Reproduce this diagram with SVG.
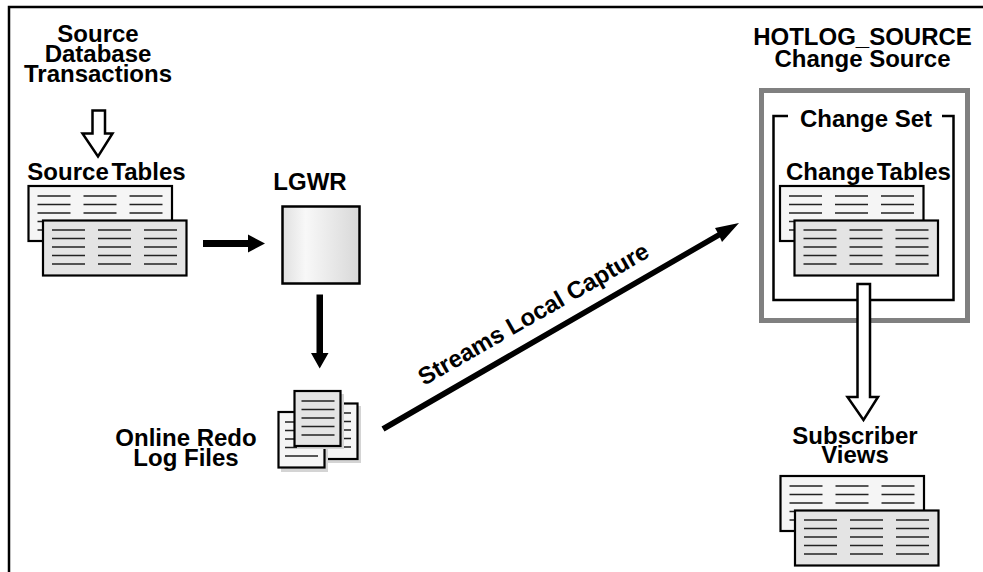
<svg xmlns="http://www.w3.org/2000/svg" width="983" height="572" viewBox="0 0 983 572">
<style>
text{font-family:"Liberation Sans",Arial,sans-serif;font-weight:700;font-size:24px;fill:#000;text-anchor:middle}
.tb{stroke:#000;stroke-width:2.2}
.back{fill:#f5f5f5}
.front{fill:#e4e4e4}
.ln{stroke:#222;stroke-width:1.6;fill:none}
.solid{fill:#000;stroke:none}
.hollow{fill:#fff;stroke:#000;stroke-width:2.5}
.sh{fill:#d4d4d4}
</style>
<defs>
<linearGradient id="lg" x1="0" x2="1" y1="0" y2="0">
<stop offset="0" stop-color="#e0e0e0"/><stop offset="0.3" stop-color="#f8f8f8"/><stop offset="1" stop-color="#d8d8d8"/>
</linearGradient>
<path id="rows" d="M0 0h33M46 0h33M92 0h33M0 8.500h33M46 8.500h33M92 8.500h33M0 17h33M46 17h33M92 17h33M0 25.500h33M46 25.500h33M92 25.500h33M0 34h33M46 34h33M92 34h33"/>
<g id="tables">
<rect class="tb back" x="0" y="0" width="143.500" height="55"/>
<use href="#rows" class="ln" x="9" y="10"/>
<rect class="tb front" x="14.500" y="34.500" width="143.500" height="55"/>
<use href="#rows" class="ln" x="23.500" y="44"/>
</g>
<path id="lines5" d="M0 0h33M0 8.500h33M0 17h33M0 25.500h33M0 34h33"/>
</defs>
<g id="frame"><path d="M9 572V7H983" fill="none" stroke="#000" stroke-width="2.500"/></g>
<g id="source-transactions"><text x="98" y="41.500">Source</text><text x="98" y="61.500">Database</text><text x="98" y="81.500">Transactions</text></g>
<g id="source-tables"><text x="106.500" y="180" word-spacing="-4">Source Tables</text><use href="#tables" x="28.500" y="186"/></g>
<g id="lgwr"><text x="310" y="190">LGWR</text><rect x="282.500" y="206.500" width="77" height="77" fill="url(#lg)" stroke="#000" stroke-width="2.500"/></g>
<g id="redo-logs">
<text x="186" y="445.700">Online Redo</text><text x="186" y="465.700">Log Files</text>
<rect class="sh" x="321" y="406" width="40" height="57"/>
<rect class="tb back" x="318" y="403.500" width="39.500" height="55.500"/>
<path class="ln" d="M340 413h11M340 421.500h11M340 430h11M340 438.500h11M340 447h11"/>
<rect class="sh" x="281" y="415" width="47" height="57"/>
<rect class="tb back" x="278.500" y="412" width="46" height="55.500"/>
<use href="#lines5" class="ln" x="285" y="422"/>
<rect class="sh" x="297" y="394" width="47" height="55"/>
<rect class="tb front" x="294.500" y="391" width="46" height="55"/>
<use href="#lines5" class="ln" x="301.500" y="401"/>
</g>
<g id="change-source">
<text x="862.500" y="45">HOTLOG_SOURCE</text><text x="862.500" y="66.700">Change Source</text>
<rect x="761.500" y="90.500" width="206" height="230" fill="#fff" stroke="#808080" stroke-width="5"/>
</g>
<g id="change-set">
<path d="M788 116H773.500V300H953.500V116H942" fill="none" stroke="#000" stroke-width="2.500"/>
<text x="866" y="126.700">Change Set</text>
</g>
<g id="change-tables"><text x="868.500" y="180" word-spacing="-4">Change Tables</text><use href="#tables" x="780" y="186"/></g>
<g id="subscriber-views"><text x="855" y="444">Subscriber</text><text x="855" y="462.700">Views</text><use href="#tables" x="780.500" y="476"/></g>
<g id="connectors">
<path class="hollow" d="M92.500 110.500H105V133.500H112.500L98 156.500L82.500 133.500H92.500Z"/>
<path class="hollow" d="M857.500 284H870V397H878L863.500 420L847.500 397H857.500Z"/>
<path class="solid" d="M203 240H248V234.500L265 243.500L248 252.500V247H203Z"/>
<path class="solid" d="M316.500 294.500H323V353H328.500L319.700 368.500L311 353H316.500Z"/>
<path class="solid" d="M381.500 426.500L717.500 232.500L715 228L739 223L722 242L720 237.500L384.500 431.500Z"/>
<text transform="rotate(-29.800 424 386)" x="424" y="386" style="text-anchor:start">Streams Local Capture</text>
</g>
</svg>
